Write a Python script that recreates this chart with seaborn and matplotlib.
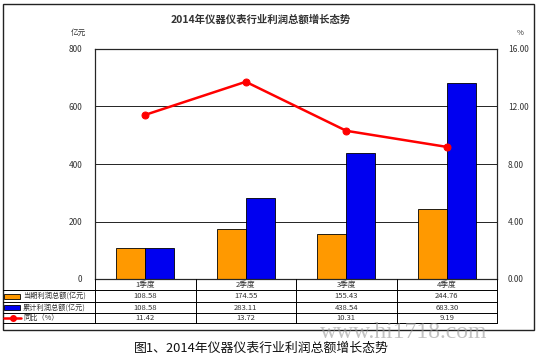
#import libraries
import numpy as np
import pandas as pd
import seaborn as sns
import matplotlib
matplotlib.use('Agg')
import matplotlib.pyplot as plt
from matplotlib.patches import Rectangle
from matplotlib.lines import Line2D

# data
quarters = ['1季度', '2季度', '3季度', '4季度']
profit_q = [108.58, 174.55, 155.43, 244.76]      # 当期利润总额(亿元)
profit_cum = [108.58, 283.11, 438.54, 683.30]    # 累计利润总额(亿元)
yoy = [11.42, 13.72, 10.31, 9.19]                # 同比(%)
series_names = ['当期利润总额(亿元)', '累计利润总额(亿元)', '同比（%）']

orange = '#FF9900'
blue = '#0000F0'
red = '#FF0000'

sns.set_style('white')
plt.rcParams['font.family'] = ['Noto Sans CJK SC', 'DejaVu Sans']

W, H = 538, 357
fig = plt.figure(figsize=(W / 100, H / 100), dpi=100)

def fx(px):
    return px / W

def fy(py):
    return 1 - py / H

# plot area in pixel coords of the reference
L, R, T, B = 95, 497, 49, 279
ax = fig.add_axes([fx(L), fy(B), fx(R) - fx(L), fy(T) - fy(B)])

df = pd.DataFrame({
    'quarter': quarters * 2,
    'value': profit_q + profit_cum,
    'series': [series_names[0]] * 4 + [series_names[1]] * 4,
})
sns.barplot(data=df, x='quarter', y='value', hue='series', order=quarters,
            palette=[orange, blue], saturation=1, width=0.58, edgecolor='black',
            linewidth=0.6, legend=False, ax=ax)

ax.set_ylim(0, 800)
ax.set_yticks(range(0, 801, 200))
ax.set_xlim(-0.5, len(quarters) - 0.5)
ax.set_xlabel('')
ax.set_ylabel('')
ax.yaxis.grid(True, color='black', linewidth=0.6)
ax.set_axisbelow(True)
ax.tick_params(axis='x', length=0, labelbottom=False)
ax.tick_params(axis='y', length=0, pad=9, labelsize=6, labelcolor='#333333')
for s in ax.spines.values():
    s.set_color('black')
    s.set_linewidth(0.8)

ax2 = ax.twinx()
x_pos = np.arange(len(quarters))
sns.lineplot(x=x_pos, y=yoy, ax=ax2, color=red, linewidth=1.8,
             marker='o', markersize=5, markeredgecolor=red)
ax2.set_ylim(0, 16)
ax2.set_yticks(np.arange(0, 16.1, 4))
ax2.set_yticklabels(['%.2f' % v for v in np.arange(0, 16.1, 4)])
ax2.tick_params(axis='y', length=0, pad=8, labelsize=6, labelcolor='#333333')
ax2.set_ylabel('')

# unit labels and title
fig.text(fx(78), fy(33), '亿元', fontsize=5.5, ha='center', va='center', color='#333333')
fig.text(fx(520), fy(33), '%', fontsize=5.5, ha='center', va='center', color='#333333')
fig.text(fx(261), fy(20), '2014年仪器仪表行业利润总额增长态势', fontsize=7.5,
         ha='center', va='center', fontweight='bold', color='#333333')

# data table under the plot
rows_y = [279, 290, 302, 313, 323]
col_x = [L + i * (R - L) / len(quarters) for i in range(len(quarters) + 1)]
lw = 0.7
fig.add_artist(Line2D([fx(L), fx(R)], [fy(rows_y[1]), fy(rows_y[1])], color='black', lw=lw))
for yy in rows_y[2:]:
    fig.add_artist(Line2D([fx(3), fx(R)], [fy(yy), fy(yy)], color='black', lw=lw))
fig.add_artist(Line2D([fx(3), fx(L)], [fy(rows_y[1]), fy(rows_y[1])], color='black', lw=lw))
for xx in col_x:
    fig.add_artist(Line2D([fx(xx), fx(xx)], [fy(rows_y[0]), fy(rows_y[-1])], color='black', lw=lw))

table_rows = [quarters,
              ['%.2f' % v for v in profit_q],
              ['%.2f' % v for v in profit_cum],
              ['%.2f' % v for v in yoy]]
for r, row in enumerate(table_rows):
    yc = (rows_y[r] + rows_y[r + 1]) / 2
    for c, txt in enumerate(row):
        xc = (col_x[c] + col_x[c + 1]) / 2
        fig.text(fx(xc), fy(yc), txt, fontsize=5.5, ha='center', va='center', color='#333333')

# legend keys in the first column
for r, (name, col) in enumerate(zip(series_names, [orange, blue, red])):
    yc = (rows_y[r + 1] + rows_y[r + 2]) / 2
    if r < 2:
        fig.add_artist(Rectangle((fx(4), fy(yc + 2.5)), fx(20) - fx(4), fy(yc - 2.5) - fy(yc + 2.5),
                                 facecolor=col, edgecolor='black', lw=0.6))
    else:
        fig.add_artist(Line2D([fx(4), fx(21)], [fy(yc), fy(yc)], color=col, lw=1.8))
        fig.add_artist(Line2D([fx(12.5)], [fy(yc)], color=col, marker='o', markersize=4,
                              linestyle='none'))
    fig.text(fx(23), fy(yc), name, fontsize=5.2, ha='left', va='center', color='#333333')

# outer frame
fig.add_artist(Rectangle((fx(3), fy(330)), fx(534) - fx(3), fy(4) - fy(330),
                         fill=False, edgecolor='#222222', lw=1.0))

# watermark and caption
fig.text(fx(404), fy(338), 'www.hi1718.com', fontsize=17, family='Liberation Serif',
         ha='center', va='baseline', color='#9a9a9a', alpha=0.6)
fig.text(fx(261), fy(348), '图1、2014年仪器仪表行业利润总额增长态势', fontsize=9.3,
         ha='center', va='center', color='#111111')

fig.savefig('out.png', dpi=100)
